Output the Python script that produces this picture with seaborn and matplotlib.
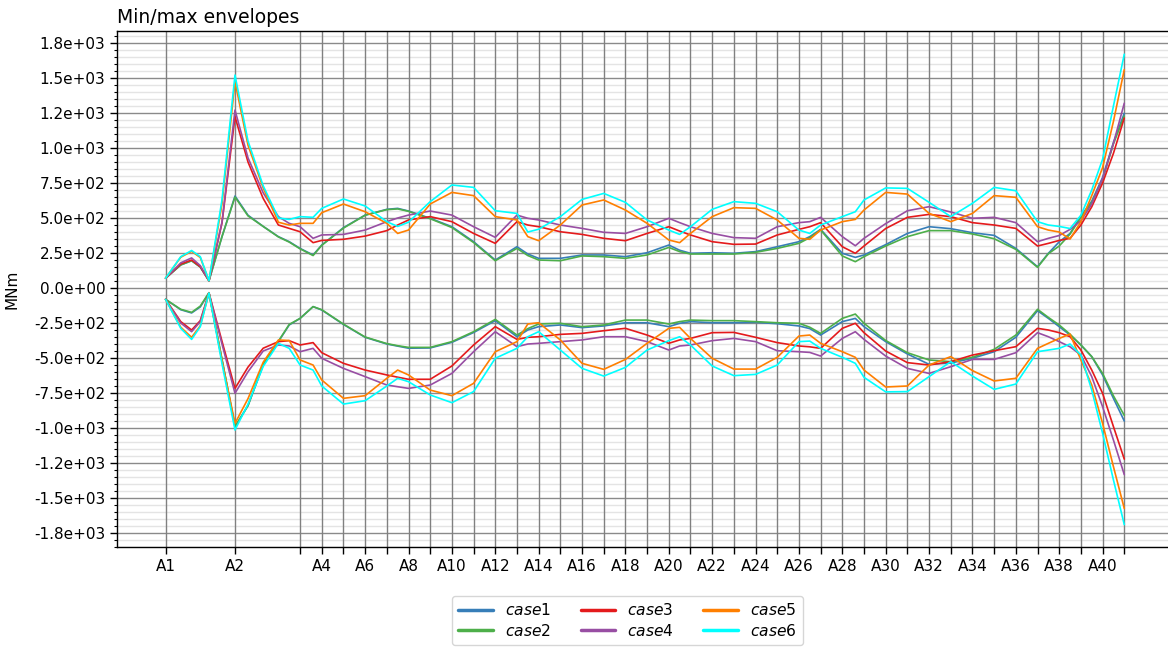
import matplotlib
matplotlib.use("Agg")
import matplotlib.pyplot as plt
import numpy as np
import pandas as pd
import seaborn as sns
from matplotlib.ticker import FixedLocator, MultipleLocator, FormatStrFormatter
from matplotlib.lines import Line2D

# ---------------- data ----------------
station_names = [f"A{i}" for i in range(1, 42)]
station_pos = [0, 16, 31, 36, 41, 46, 51, 56, 61, 66, 71, 76, 81, 86, 91, 96, 101, 106,
               111, 116, 121, 126, 131, 136, 141, 146, 151, 156, 161, 166, 171, 176, 181,
               186, 191, 196, 201, 206, 211, 216, 221]

x_m = [0, 3.5, 6, 8, 10, 13, 16, 19, 22.5, 26, 28.5, 31, 34, 36, 41, 46, 51, 53.5, 56, 61,
       66, 71, 76, 81, 83.5, 86, 91, 96, 101, 106, 111, 116, 118.5, 121, 126, 131, 136, 141, 146, 148.5,
       151, 156, 159, 161, 166, 171, 176, 181, 186, 191, 196, 201, 203.5, 206, 208.5, 211, 213.5, 216, 218.5, 221]

case1_max = [70, 165, 195, 150, 52, 367, 657, 520, 440, 367, 331, 283, 236, 307, 431, 521, 562, 569, 550, 498,
             438, 331, 200, 295, 243, 212, 212, 236, 236, 224, 252, 307, 270, 248, 252, 248, 260, 295, 331, 367,
             419, 248, 219, 236, 310, 390, 438, 424, 395, 376, 283, 152, 248, 330, 390, 515, 620, 790, 1040, 1248]
case2_max = [70, 165, 195, 150, 52, 367, 650, 515, 440, 365, 328, 280, 232, 305, 428, 520, 560, 565, 548, 495,
             432, 325, 195, 283, 232, 200, 195, 229, 224, 212, 236, 290, 260, 243, 243, 243, 255, 283, 319, 360,
             415, 229, 188, 224, 300, 367, 410, 410, 386, 352, 276, 148, 245, 300, 385, 505, 610, 775, 1030, 1228]
case3_max = [70, 171, 200, 152, 52, 464, 1224, 900, 640, 450, 426, 402, 324, 340, 348, 371, 410, 450, 486, 510,
             474, 390, 319, 474, 450, 438, 402, 383, 355, 338, 390, 438, 407, 379, 331, 312, 314, 379, 419, 438,
             467, 295, 248, 300, 425, 505, 526, 510, 467, 450, 426, 300, 319, 340, 355, 450, 580, 750, 962, 1214]
case4_max = [70, 180, 215, 160, 52, 470, 1271, 930, 680, 510, 462, 438, 355, 379, 383, 414, 474, 500, 521, 550,
             521, 438, 362, 521, 498, 486, 450, 426, 398, 390, 438, 498, 467, 438, 390, 360, 355, 438, 467, 474,
             505, 367, 302, 355, 460, 552, 581, 543, 498, 505, 467, 331, 355, 375, 419, 480, 600, 783, 1033, 1320]
case5_max = [70, 220, 262, 218, 52, 600, 1474, 1020, 715, 470, 450, 462, 462, 538, 600, 545, 462, 390, 414, 600,
             683, 660, 510, 486, 367, 338, 450, 593, 629, 557, 462, 343, 324, 390, 510, 574, 569, 486, 355, 348,
             414, 474, 490, 557, 683, 671, 533, 474, 533, 660, 648, 438, 414, 400, 350, 474, 660, 860, 1190, 1560]
case6_max = [70, 224, 268, 224, 52, 629, 1521, 1050, 730, 500, 490, 510, 505, 569, 636, 586, 474, 440, 470, 617,
             736, 719, 552, 533, 400, 420, 510, 633, 676, 612, 486, 414, 383, 438, 562, 617, 605, 545, 414, 390,
             450, 510, 545, 629, 715, 712, 612, 510, 605, 719, 695, 474, 450, 440, 425, 520, 700, 920, 1300, 1670]

case1_min = [-81, -155, -178, -135, -35, -510, -990, -840, -550, -383, -264, -217, -133, -157, -260, -352, -400, -415, -430, -428,
             -388, -318, -233, -348, -300, -276, -264, -283, -271, -248, -248, -276, -252, -240, -248, -248, -245, -255, -271, -290,
             -336, -240, -217, -276, -383, -471, -545, -536, -502, -455, -352, -162, -217, -276, -336, -407, -490, -621, -788, -950]
case2_min = [-81, -152, -174, -129, -33, -510, -990, -840, -545, -380, -260, -217, -133, -155, -258, -350, -397, -412, -424, -424,
             -383, -312, -224, -336, -290, -257, -252, -276, -264, -229, -229, -257, -240, -229, -233, -233, -240, -248, -252, -280,
             -324, -217, -186, -252, -375, -462, -514, -526, -495, -438, -336, -152, -210, -264, -330, -407, -490, -610, -770, -910]
case3_min = [-81, -240, -300, -233, -35, -380, -717, -565, -430, -383, -376, -407, -390, -462, -538, -586, -621, -637, -652, -652,
             -557, -407, -276, -367, -352, -348, -331, -324, -305, -288, -336, -395, -371, -360, -319, -317, -352, -390, -414, -420,
             -431, -288, -252, -319, -450, -533, -550, -526, -479, -448, -419, -288, -300, -319, -348, -443, -586, -752, -990, -1222]
case4_min = [-81, -250, -312, -240, -35, -400, -752, -598, -450, -407, -414, -455, -431, -502, -574, -633, -693, -705, -717, -693,
             -610, -455, -312, -419, -400, -395, -383, -371, -348, -348, -383, -443, -414, -407, -376, -360, -383, -448, -455, -460,
             -486, -360, -312, -367, -486, -574, -610, -562, -510, -510, -462, -319, -348, -383, -420, -479, -633, -848, -1086, -1333]
case5_min = [-81, -280, -352, -270, -35, -520, -967, -790, -530, -371, -375, -514, -550, -657, -788, -769, -645, -586, -621, -729,
             -769, -681, -455, -383, -257, -248, -371, -538, -581, -510, -395, -288, -281, -360, -502, -579, -579, -495, -343, -336,
             -395, -455, -495, -586, -707, -700, -550, -490, -590, -664, -645, -431, -395, -360, -329, -514, -693, -967, -1276, -1575]
case6_min = [-81, -288, -367, -276, -35, -540, -1014, -830, -560, -395, -431, -550, -586, -700, -829, -805, -700, -645, -669, -764,
             -819, -740, -502, -431, -348, -312, -443, -574, -629, -567, -443, -376, -348, -407, -557, -626, -617, -550, -383, -379,
             -431, -495, -538, -638, -742, -740, -633, -526, -629, -724, -686, -455, -443, -431, -400, -479, -729, -1038, -1371, -1690]

case_names = ["case1", "case2", "case3", "case4", "case5", "case6"]
case_colors = ["#377eb8", "#4daf4a", "#e41a1c", "#984ea3", "#ff7f00", "#00ffff"]
max_series = [case1_max, case2_max, case3_max, case4_max, case5_max, case6_max]
min_series = [case1_min, case2_min, case3_min, case4_min, case5_min, case6_min]

rows = []
for name, mx, mn in zip(case_names, max_series, min_series):
    for x, v in zip(x_m, mx):
        rows.append((x, v, name, "max"))
    for x, v in zip(x_m, mn):
        rows.append((x, v, name, "min"))
df = pd.DataFrame(rows, columns=["x", "value", "case", "bound"])

# ---------------- plot ----------------
sns.set_style("white")
plt.rcParams["font.family"] = ["DejaVu Sans"]
plt.rcParams.update({"text.color": "black", "axes.labelcolor": "black",
                     "xtick.color": "black", "ytick.color": "black"})

W, H = 1168, 649
fig = plt.figure(figsize=(W / 100, H / 100), dpi=100)
ax = fig.add_axes([117 / W, (H - 547) / H, (1172 - 117) / W, (547 - 31) / H])

sns.lineplot(data=df, x="x", y="value", hue="case", units="bound", estimator=None,
             palette=dict(zip(case_names, case_colors)), hue_order=case_names,
             linewidth=1.2, legend=False, ax=ax, sort=False, zorder=3)

ax.set_xlim(-11.2, 232.0)
ax.set_ylim(-1850, 1836)

tick_labels = [n if (i < 2 or (i >= 3 and i % 2 == 1)) else "" for i, n in enumerate(station_names)]
ax.xaxis.set_major_locator(FixedLocator(station_pos))
ax.set_xticklabels(tick_labels)
ax.yaxis.set_major_locator(MultipleLocator(250))
ax.yaxis.set_minor_locator(MultipleLocator(50))
ax.yaxis.set_major_formatter(FormatStrFormatter("%.1e"))

ax.tick_params(axis="both", which="major", labelsize=11, length=5, width=1, color="black",
               labelcolor="black", direction="out", left=True, bottom=True)
ax.tick_params(axis="y", which="minor", length=2.5, width=0.8, left=True, color="black")

# grid: horizontal via axis grid, vertical station lines drawn on top of the minor grid
ax.set_axisbelow(True)
ax.grid(False)
ax.grid(which="major", axis="y", color="#8a8a8a", linewidth=1.0)
ax.grid(which="minor", axis="y", color="#e4e4e4", linewidth=1.0)
ax.vlines(station_pos, 0, 1, transform=ax.get_xaxis_transform(), colors="#808080",
          linewidth=1.0, zorder=1)

for s in ["top", "left", "bottom"]:
    ax.spines[s].set_visible(True)
    ax.spines[s].set_color("black")
    ax.spines[s].set_linewidth(1.0)
ax.spines["right"].set_visible(False)

ax.set_xlabel("")
ax.set_ylabel("MNm", fontsize=11, color="black")
ax.yaxis.set_label_coords(-0.092, 0.5)
ax.set_title("Min/max envelopes", loc="left", fontsize=13.5, pad=6, color="black")

handles = [Line2D([0], [0], color=c, lw=2.5) for c in case_colors]
labels = [r"$case$" + n[-1] for n in case_names]
leg = fig.legend(handles, labels, ncol=3, loc="upper center", bbox_to_anchor=(627.5 / W, 1 - 596 / H),
                 fontsize=11.2, frameon=True, fancybox=True, edgecolor="#cccccc", handlelength=2.2,
                 columnspacing=1.9, borderaxespad=0.0, handletextpad=0.8, labelspacing=0.3)
for t in leg.get_texts():
    t.set_color("black")

fig.savefig("out.png", dpi=100)
